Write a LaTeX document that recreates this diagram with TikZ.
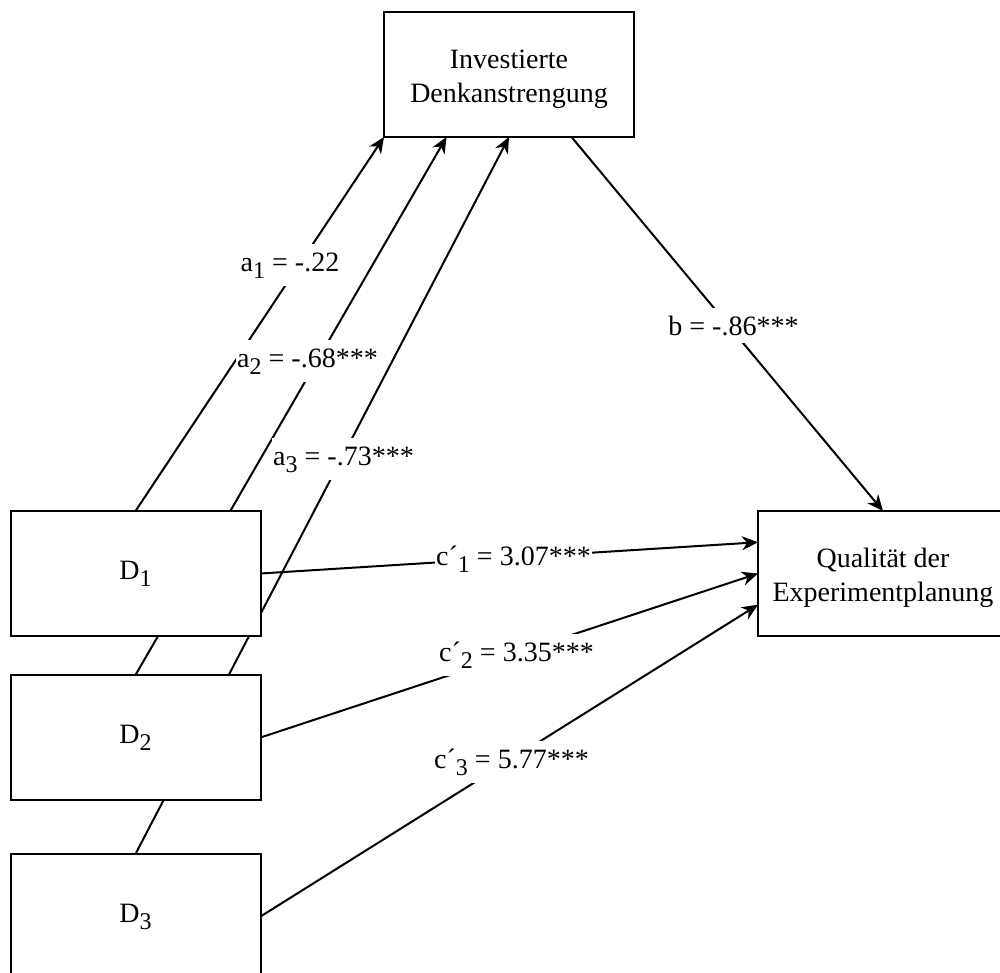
\documentclass[tikz,border=0pt]{standalone}
\usepackage{fontspec}
\setmainfont{Liberation Serif}
\usetikzlibrary{arrows.meta,backgrounds,calc}
\newcommand{\mysub}[1]{\raisebox{-0.25em}{\fontsize{12}{12}\selectfont #1}}
\begin{document}
\begin{tikzpicture}[x=0.5pt,y=-0.5pt,
  box/.style={draw,line width=1pt,fill=white,minimum width=125pt,minimum height=62.5pt,
    inner sep=0pt,outer sep=0pt,align=center,font=\fontsize{14}{17}\selectfont},
  conn/.style={line width=1pt,-{Stealth[length=8pt,width=7pt,inset=2.5pt]}},
  lab/.style={fill=white,inner xsep=0.5pt,inner ysep=4pt,anchor=base,
    font=\fontsize{14}{17}\selectfont}]
\useasboundingbox (0,0) rectangle (1000,973);
\node[box] (T) at (509,74.5) {\rule{0pt}{14pt}Investierte\\Denkanstrengung};
\node[box] (Q) at (883,573.5) {\rule{0pt}{14pt}Qualität der\\Experimentplanung};
\node[box] (D1) at (135.5,573.5) {D\mysub{1}};
\node[box] (D2) at (135.5,737.5) {D\mysub{2}};
\node[box] (D3) at (135.5,916.5) {D\mysub{3}};
\begin{pgfonlayer}{background}
\draw[conn] (D1.north) -- (T.south west);
\draw[conn] (D2.north) -- ($(T.south west)!0.25!(T.south east)$);
\draw[conn] (D3.north) -- (T.south);
\draw[conn] ($(T.south west)!0.75!(T.south east)$) -- (Q.north);
\draw[conn] (D1.east) -- ($(Q.north west)!0.25!(Q.south west)$);
\draw[conn] (D2.east) -- (Q.west);
\draw[conn] (D3.east) -- ($(Q.north west)!0.75!(Q.south west)$);
\end{pgfonlayer}
\node[lab] (la1) at (290,271) {a\mysub{1} = -.22};
\node[lab] (la2) at (307.5,367) {a\mysub{2} = -.68***};
\node[lab] (la3) at (343.5,465) {a\mysub{3} = -.73***};
\node[lab] (lb) at (733.5,335) {b = -.86***};
\node[lab] (lc1) at (513.5,565) {c´\mysub{1} = 3.07***};
\node[lab] (lc2) at (516.5,661) {c´\mysub{2} = 3.35***};
\node[lab] (lc3) at (511.5,768) {c´\mysub{3} = 5.77***};
\end{tikzpicture}
\end{document}
